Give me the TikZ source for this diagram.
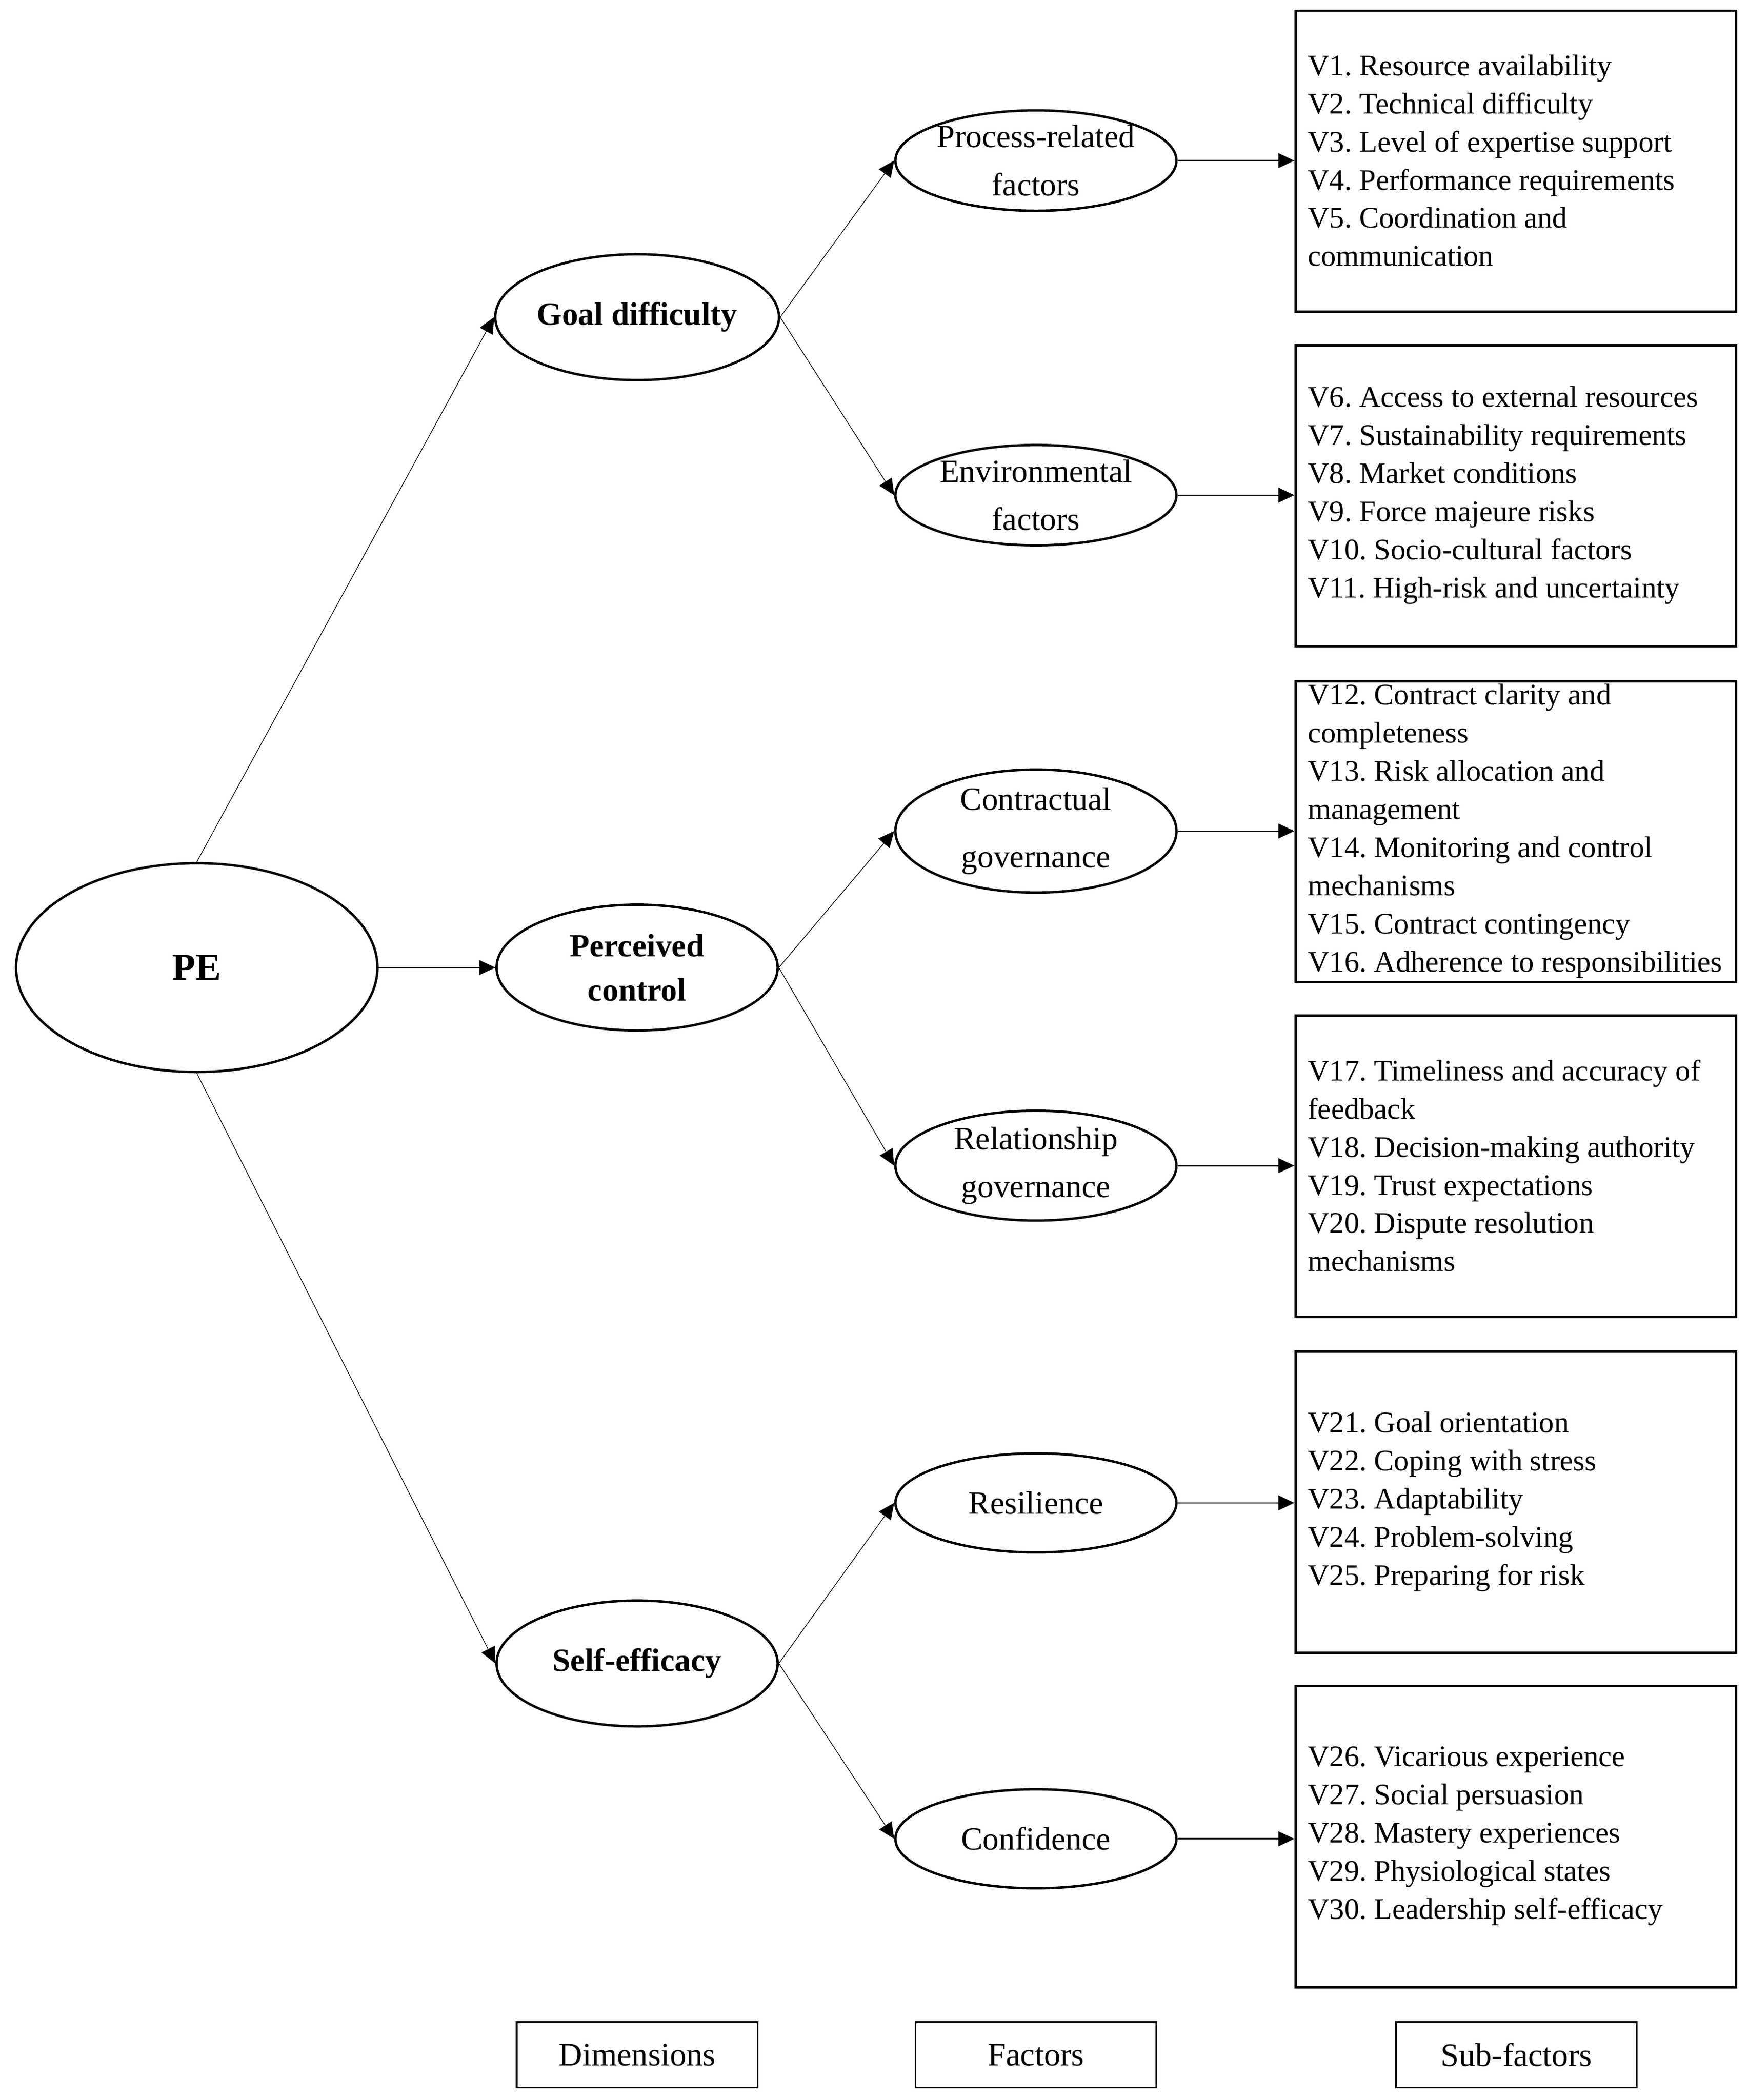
\documentclass[tikz,border=0pt]{standalone}
\usepackage{fontspec}
\setmainfont{Liberation Serif}
\usetikzlibrary{shapes.geometric,arrows.meta}
\begin{document}
\frenchspacing
\begin{tikzpicture}[x=1pt,y=-1pt,
  every node/.style={font=\fontsize{22.3}{28.5}\selectfont},
  dimell/.style={ellipse,draw,line width=1.8pt,minimum width=210pt,minimum height=94pt,inner sep=0pt,align=center,font=\fontsize{24.2}{33}\selectfont\bfseries},
  facell/.style={ellipse,draw,line width=1.8pt,minimum width=210pt,minimum height=74pt,inner sep=0pt,align=center,font=\fontsize{24.2}{36}\selectfont},
  subbox/.style={rectangle,draw,line width=1.8pt,minimum width=329pt,minimum height=225pt,inner sep=0pt},
  subtext/.style={anchor=west,align=left,inner sep=0pt},
  legbox/.style={rectangle,draw,line width=1.2pt,minimum width=180pt,minimum height=49pt,inner sep=0pt,font=\fontsize{24.5}{28}\selectfont},
  thin/.style={line width=0.5pt,-{Triangle[length=12pt,width=11pt]}},
  hor/.style={line width=1pt,-{Triangle[length=12pt,width=11pt]}}
]
\useasboundingbox (0,0) rectangle (1306,1569.2);
% PE
\node[ellipse,draw,line width=1.8pt,minimum width=270pt,minimum height=156pt,inner sep=0pt,font=\fontsize{28.5}{30}\selectfont\bfseries] (pe) at (147,723) {PE};
% dimensions
\node[dimell] (gd) at (476,237) {Goal difficulty};
\node[dimell] (pc) at (476,723) {Perceived\\control};
\node[dimell] (se) at (476,1243) {Self-efficacy};
% factors
\node[facell] (f1) at (774,120) {Process-related\\factors};
\node[facell] (f2) at (774,370) {Environmental\\factors};
\node[facell,font=\fontsize{24.2}{43}\selectfont] (f3) at (774,621) {Contractual\\governance};
\node[facell] (f4) at (774,871) {Relationship\\governance};
\node[facell] (f5) at (774,1123) {Resilience};
\node[facell] (f6) at (774,1374) {Confidence};
% sub-factor boxes
\node[subbox] (b1) at (1132.5,120.5) {};
\node[subbox] (b2) at (1132.5,370.5) {};
\node[subbox] (b3) at (1132.5,621.5) {};
\node[subbox] (b4) at (1132.5,871.5) {};
\node[subbox] (b5) at (1132.5,1122.5) {};
\node[subbox] (b6) at (1132.5,1372.5) {};
\node[subtext] (t1) at (977,120) {V1. Resource availability\\V2. Technical difficulty\\V3. Level of expertise support\\V4. Performance requirements\\V5. Coordination and\\communication};
\node[subtext] (t2) at (977,370) {V6. Access to external resources\\V7. Sustainability requirements\\V8. Market conditions\\V9. Force majeure risks\\V10. Socio-cultural factors\\V11. High-risk and uncertainty};
\node[subtext] (t3) at (977,621) {V12. Contract clarity and\\completeness\\V13. Risk allocation and\\management\\V14. Monitoring and control\\mechanisms\\V15. Contract contingency\\V16. Adherence to responsibilities};
\node[subtext] (t4) at (977,871) {V17. Timeliness and accuracy of\\feedback\\V18. Decision-making authority\\V19. Trust expectations\\V20. Dispute resolution\\mechanisms};
\node[subtext] (t5) at (977,1122) {V21. Goal orientation\\V22. Coping with stress\\V23. Adaptability\\V24. Problem-solving\\V25. Preparing for risk};
\node[subtext] (t6) at (977,1372) {V26. Vicarious experience\\V27. Social persuasion\\V28. Mastery experiences\\V29. Physiological states\\V30. Leadership self-efficacy};
% legend
\node[legbox] (l1) at (476,1535.5) {Dimensions};
\node[legbox] (l2) at (774,1535.5) {Factors};
\node[legbox] (l3) at (1133,1535.5) {Sub-factors};
% connectors
\draw[thin] (pe.north) -- (gd.west);
\draw[hor] (pe.east) -- (pc.west);
\draw[thin] (pe.south) -- (se.west);
\draw[thin] (gd.east) -- (f1.west);
\draw[thin] (gd.east) -- (f2.west);
\draw[thin] (pc.east) -- (f3.west);
\draw[thin] (pc.east) -- (f4.west);
\draw[thin] (se.east) -- (f5.west);
\draw[thin] (se.east) -- (f6.west);
\draw[hor] (f1.east) -- (b1.west |- f1.east);
\draw[hor] (f2.east) -- (b2.west |- f2.east);
\draw[hor] (f3.east) -- (b3.west |- f3.east);
\draw[hor] (f4.east) -- (b4.west |- f4.east);
\draw[hor] (f5.east) -- (b5.west |- f5.east);
\draw[hor] (f6.east) -- (b6.west |- f6.east);
\end{tikzpicture}
\end{document}
